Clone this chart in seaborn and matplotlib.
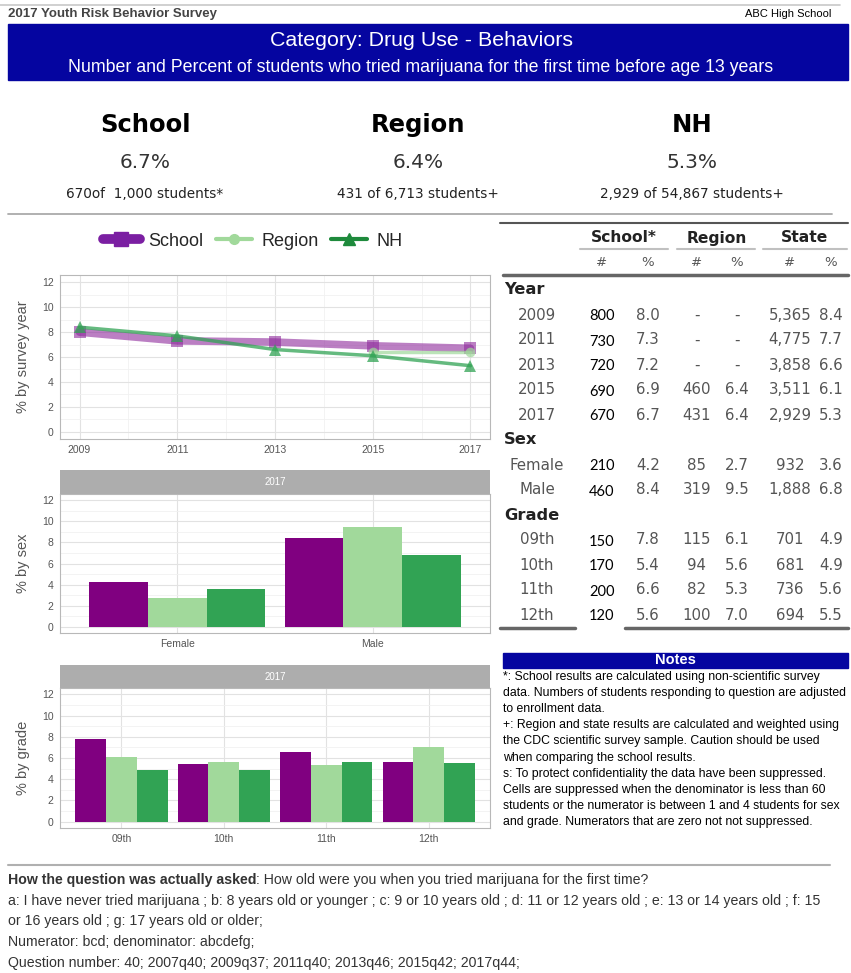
import numpy as np
import pandas as pd
import matplotlib
matplotlib.use('Agg')
import matplotlib.pyplot as plt
from matplotlib.lines import Line2D
from matplotlib.patches import Rectangle
import seaborn as sns

sns.set_style("white")
plt.rcParams['font.family'] = ['Liberation Sans', 'DejaVu Sans']

W, H = 851, 973

# ---- data ----
groups = ['School', 'Region', 'NH']
bar_colors = ['#800080', '#a1d99b', '#31a354']
line_colors = ['#8e2a9c', '#9fd89a', '#31a354']
legend_colors = ['#7b1fa2', '#a1d99b', '#1e8a3c']

years = [2009, 2011, 2013, 2015, 2017]
school_year_n = [800, 730, 720, 690, 670]
school_year_pct = [8.0, 7.3, 7.2, 6.9, 6.7]
region_year_n = [None, None, None, 460, 431]
region_year_pct = [np.nan, np.nan, np.nan, 6.4, 6.4]
state_year_n = [5365, 4775, 3858, 3511, 2929]
state_year_pct = [8.4, 7.7, 6.6, 6.1, 5.3]

sexes = ['Female', 'Male']
school_sex_n = [210, 460]
school_sex_pct = [4.2, 8.4]
region_sex_n = [85, 319]
region_sex_pct = [2.7, 9.5]
state_sex_n = [932, 1888]
state_sex_pct = [3.6, 6.8]

grades = ['09th', '10th', '11th', '12th']
school_grade_n = [150, 170, 200, 120]
school_grade_pct = [7.8, 5.4, 6.6, 5.6]
region_grade_n = [115, 94, 82, 100]
region_grade_pct = [6.1, 5.6, 5.3, 7.0]
state_grade_n = [701, 681, 736, 694]
state_grade_pct = [4.9, 4.9, 5.6, 5.5]

summary_labels = ['School', 'Region', 'NH']
summary_pct = [6.7, 6.4, 5.3]
summary_n = [670, 431, 2929]
summary_total = [1000, 6713, 54867]
summary_fmt = ['{n:,}of  {t:,} students*', '{n:,} of {t:,} students+', '{n:,} of {t:,} students+']

notes_lines = [
    '*: School results are calculated using non-scientific survey',
    'data. Numbers of students responding to question are adjusted',
    'to enrollment data.',
    '+: Region and state results are calculated and weighted using',
    'the CDC scientific survey sample. Caution should be used',
    'when comparing the school results.',
    's: To protect confidentiality the data have been suppressed.',
    'Cells are suppressed when the denominator is less than 60',
    'students or the numerator is between 1 and 4 students for sex',
    'and grade. Numerators that are zero not not suppressed.',
]
question_lines = [
    'a: I have never tried marijuana ; b: 8 years old or younger ; c: 9 or 10 years old ; d: 11 or 12 years old ; e: 13 or 14 years old ; f: 15',
    'or 16 years old ; g: 17 years old or older;',
    'Numerator: bcd; denominator: abcdefg;',
    'Question number: 40; 2007q40; 2009q37; 2011q40; 2013q46; 2015q42; 2017q44;',
]

fig = plt.figure(figsize=(W / 100, H / 100), dpi=100)

# background axes in pixel coordinates for text and rules
bg = fig.add_axes([0, 0, 1, 1])
bg.set_xlim(0, W)
bg.set_ylim(H, 0)
bg.axis('off')


def px_axes(x0, y0, x1, y1):
    return fig.add_axes([x0 / W, 1 - y1 / H, (x1 - x0) / W, (y1 - y0) / H])


def style_panel(ax, ylabel):
    ax.set_facecolor('white')
    ax.set_ylim(-0.6, 12.6)
    ax.set_yticks(range(0, 13, 2))
    ax.set_yticks(range(1, 13, 2), minor=True)
    ax.grid(which='major', color='#e2e2e2', lw=0.8)
    ax.grid(which='minor', color='#f1f1f1', lw=0.6)
    ax.set_axisbelow(True)
    for s in ax.spines.values():
        s.set_color('#b8b8b8')
        s.set_linewidth(0.8)
    ax.tick_params(which='major', labelsize=7.5, colors='#b8b8b8', labelcolor='#555555',
                   length=2.5, width=0.6, pad=2)
    ax.tick_params(which='minor', length=0)
    ax.set_xlabel('')
    ax.set_ylabel(ylabel, fontsize=10.5, color='#555555')
    ax.yaxis.set_label_coords(-(60 - 30) / 430, 0.5)


def strip(y0, y1):
    s = px_axes(60, y0, 490, y1)
    s.set_facecolor('#adadad')
    s.set_xticks([])
    s.set_yticks([])
    for sp in s.spines.values():
        sp.set_visible(False)
    s.text(0.5, 0.5, '2017', color='white', fontsize=7, ha='center', va='center',
           transform=s.transAxes)


# ---- header ----
bg.plot([0, 840], [5, 5], color='#c8c8c8', lw=1.2)
bg.text(8, 14, '2017 Youth Risk Behavior Survey', fontsize=9.5, fontweight='bold',
        color='#444444', va='center')
bg.text(831, 14, 'ABC High School', fontsize=8, color='black', va='center', ha='right')
bg.add_patch(Rectangle((8, 24), 840, 56, color='#0505a0'))
bg.text(421, 40, 'Category: Drug Use - Behaviors', fontsize=15.4, color='white',
        ha='center', va='center')
bg.text(421, 68, 'Number and Percent of students who tried marijuana for the first time before age 13 years',
        fontsize=12.8, color='white', ha='center', va='center')

# ---- summary ----
for cx, lab, p, n, t, f in zip([145, 418, 692], summary_labels, summary_pct,
                               summary_n, summary_total, summary_fmt):
    bg.text(cx, 125, lab, family='DejaVu Sans', fontweight='bold', fontsize=17.5,
            ha='center', va='center', color='black')
    bg.text(cx, 163, f'{p:.1f}%', family='DejaVu Sans', fontsize=14.5,
            ha='center', va='center', color='#333333')
    bg.text(cx, 194, f.format(n=n, t=t), family='DejaVu Sans', fontsize=9.8,
            ha='center', va='center', color='#222222')
bg.plot([8, 832], [214, 214], color='#aaaaaa', lw=1.3)

# ---- line chart by year ----
year_df = pd.DataFrame({
    'year': years * 3,
    'pct': school_year_pct + region_year_pct + state_year_pct,
    'group': np.repeat(groups, len(years)),
})
ax1 = px_axes(60, 275, 490, 439)
styles = [(5.5, 's', 8.5, 0.6), (2.5, 'o', 7, 0.7), (2.5, '^', 8, 0.75)]
for g, c, (lw, mk, ms, a) in zip(groups, line_colors, styles):
    sub = year_df[year_df['group'] == g].dropna()
    sns.lineplot(data=sub, x='year', y='pct', color=c, linewidth=lw, marker=mk,
                 markersize=ms, markeredgewidth=0, alpha=a, ax=ax1)
style_panel(ax1, '% by survey year')
ax1.set_xlim(2008.6, 2017.4)
ax1.set_xticks(years)
ax1.set_xticks([2010, 2012, 2014, 2016], minor=True)

handles = [
    Line2D([], [], color=legend_colors[0], lw=7, marker='s', markersize=10),
    Line2D([], [], color=legend_colors[1], lw=3, marker='o', markersize=7),
    Line2D([], [], color=legend_colors[2], lw=3, marker='^', markersize=9),
]
fig.legend(handles, groups, loc='center', bbox_to_anchor=(253 / W, 1 - 241 / H), ncol=3,
           frameon=False, fontsize=13, handlelength=2.0, handletextpad=0.5,
           columnspacing=0.7)

# ---- bars by sex ----
sex_df = pd.DataFrame({
    'sex': sexes * 3,
    'pct': school_sex_pct + region_sex_pct + state_sex_pct,
    'group': np.repeat(groups, len(sexes)),
})
strip(470, 494)
ax2 = px_axes(60, 494, 490, 633)
sns.barplot(data=sex_df, x='sex', y='pct', hue='group', hue_order=groups,
            palette=bar_colors, width=0.9, saturation=1, linewidth=0, legend=False, ax=ax2)
style_panel(ax2, '% by sex')
ax2.set_xlim(-0.6, len(sexes) - 0.4)

# ---- bars by grade ----
grade_df = pd.DataFrame({
    'grade': grades * 3,
    'pct': school_grade_pct + region_grade_pct + state_grade_pct,
    'group': np.repeat(groups, len(grades)),
})
strip(665, 688)
ax3 = px_axes(60, 688, 490, 828)
sns.barplot(data=grade_df, x='grade', y='pct', hue='group', hue_order=groups,
            palette=bar_colors, width=0.9, saturation=1, linewidth=0, legend=False, ax=ax3)
style_panel(ax3, '% by grade')
ax3.set_xlim(-0.6, len(grades) - 0.4)

# ---- table ----
col_x = [602, 648, 697, 737, 790, 831]
gray = '#555555'
bg.plot([500, 848], [223, 223], color='#555555', lw=1.5)
for cx, lab, (a, b) in zip([624, 717, 805], ['School*', 'Region', 'State'],
                           [(580, 668), (677, 755), (763, 847)]):
    bg.text(cx, 238, lab, family='DejaVu Sans', fontweight='bold', fontsize=11.2,
            ha='center', va='center', color='#222222')
    bg.plot([a, b], [249, 249], color='#c0c0c0', lw=1.5)
for cx, lab in zip(col_x, ['#', '%'] * 3):
    bg.text(cx, 263, lab, family='DejaVu Sans', fontsize=9.5, ha='center', va='center',
            color=gray)
bg.plot([503, 848], [275, 275], color='#666666', lw=2.5)


def fmt_n(v):
    return '-' if v is None else f'{v:,}'


def fmt_p(v):
    return '-' if v is None or np.isnan(v) else f'{v:.1f}'


sections = [
    ('Year', [str(y) for y in years], school_year_n, school_year_pct, region_year_n,
     region_year_pct, state_year_n, state_year_pct),
    ('Sex', sexes, school_sex_n, school_sex_pct, region_sex_n, region_sex_pct,
     state_sex_n, state_sex_pct),
    ('Grade', grades, school_grade_n, school_grade_pct, region_grade_n, region_grade_pct,
     state_grade_n, state_grade_pct),
]
row = 0
for title, labs, sn, sp, rn, rp, tn, tp in sections:
    y = 290 + 25 * row
    bg.text(504, y, title, family='DejaVu Sans', fontweight='bold', fontsize=11.7,
            ha='left', va='center', color='#222222')
    row += 1
    for i, lab in enumerate(labs):
        y = 290 + 25 * row
        bg.text(537, y, lab, family='DejaVu Sans', fontsize=10.8, ha='center', va='center',
                color=gray)
        bg.text(col_x[0], y + 1.5, fmt_n(sn[i]), family='Lato', fontsize=10.5,
                ha='center', va='center', color='black')
        vals = [fmt_p(sp[i]), fmt_n(rn[i]), fmt_p(rp[i]), fmt_n(tn[i]), fmt_p(tp[i])]
        for cx, v in zip(col_x[1:], vals):
            bg.text(cx, y, v, family='DejaVu Sans', fontsize=10.8, ha='center',
                    va='center', color=gray)
        row += 1
bg.plot([500, 575], [628, 628], color='#666666', lw=2.5)
bg.plot([625, 848], [628, 628], color='#666666', lw=2.5)

# ---- notes ----
bg.add_patch(Rectangle((503, 653), 345, 15, color='#0505a0'))
bg.text(675, 660.5, 'Notes', fontsize=10.5, fontweight='bold', color='white',
        ha='center', va='center')
for i, line in enumerate(notes_lines):
    bg.text(503, 677 + 16.1 * i, line, fontsize=8.85, color='black', ha='left', va='center')

# ---- question text ----
bg.plot([8, 830], [865, 865], color='#b0b0b0', lw=1.5)
t = bg.text(8, 880, 'How the question was actually asked', fontsize=10.2, fontweight='bold',
            color='#333333', ha='left', va='center')
bg.annotate(': How old were you when you tried marijuana for the first time?', xy=(1, 0),
            xycoords=t, fontsize=10.2, color='#333333', ha='left', va='bottom')
for i, line in enumerate(question_lines):
    bg.text(8, 901 + 20.5 * i, line, fontsize=10.2, color='#333333', ha='left', va='center')

fig.savefig('out.png', dpi=100)
